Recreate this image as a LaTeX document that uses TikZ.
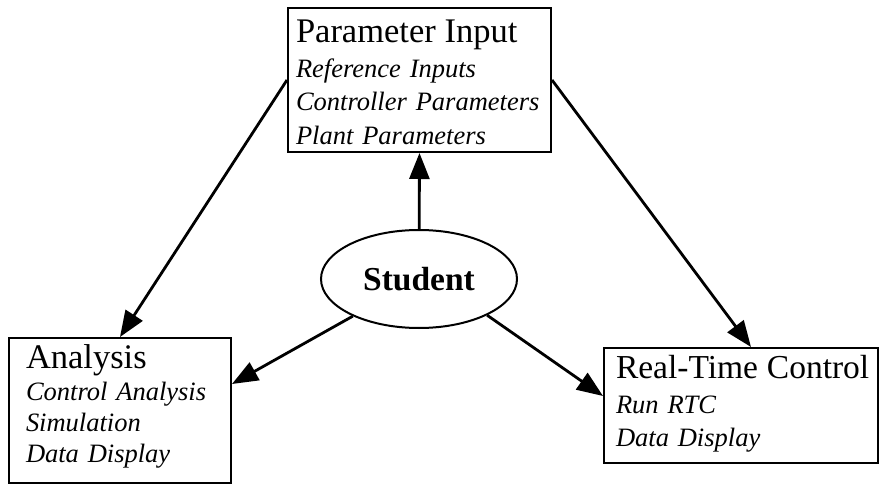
\documentclass[tikz,border=0pt]{standalone}
\usepackage{fontspec}
\setmainfont{Liberation Serif}
\usetikzlibrary{arrows.meta,shapes.geometric}

\newcommand{\boxtitle}[1][34.5]{\fontsize{#1}{36}\selectfont\upshape}
\newcommand{\boxitem}[1]{\fontsize{26.5}{#1}\selectfont\itshape}

\tikzset{
  panel/.style={draw, line width=2pt, align=left, anchor=north west,
    inner ysep=0pt},
  hub/.style={draw, ellipse, line width=2pt, inner sep=0pt,
    minimum width=196pt, minimum height=98pt,
    font=\fontsize{33.5}{36}\selectfont\bfseries},
  link/.style={line width=2.8pt,
    -{Triangle[length=26pt,width=20pt]}},
}

\begin{document}
\begin{tikzpicture}[x=1pt,y=-1pt]
  \useasboundingbox (0,0) rectangle (879,484);

  % the three task panels (text height = top edge to first baseline)
  \node[panel, font=\boxitem{33.5}, text width=247pt, inner xsep=8pt,
        text height=35pt, text depth=109pt]
    (pi) at (287,7)
    {{\boxtitle Parameter Input}\\[1pt]Reference Inputs\\Controller Parameters\\Plant Parameters};
  \node[panel, font=\boxitem{31}, text width=188pt, inner xsep=17pt,
        text height=30pt, text depth=115pt]
    (an) at (8,337)
    {{\boxtitle Analysis}\\[1pt]Control Analysis\\Simulation\\Data Display};
  \node[panel, font=\boxitem{33}, text width=262pt, inner xsep=6pt,
        text height=30pt, text depth=85pt]
    (rtc) at (603,347)
    {\mbox{\boxtitle[33.5]\hspace*{6pt}Real-Time Control}\\[2pt]\hspace*{6pt}Run RTC\\\hspace*{6pt}Data Display};

  % the user in the middle
  \node[hub] (st) at (419,279) {Student};

  % arrival points on the panel sides
  \coordinate (anin) at ([yshift=26.5pt]an.east);
  \coordinate (rtcin) at ([yshift=9.5pt]rtc.west);
  \coordinate (rtctop) at ([xshift=10pt]rtc.north);

  % connectors
  \draw[link] (st) -- (pi.south);
  \draw[link] (st) -- (anin);
  \draw[link] (st.-28) -- (rtcin);
  \draw[link] (pi.west) -- (an.north);
  \draw[link] (pi.east) -- (rtctop);
\end{tikzpicture}
\end{document}
